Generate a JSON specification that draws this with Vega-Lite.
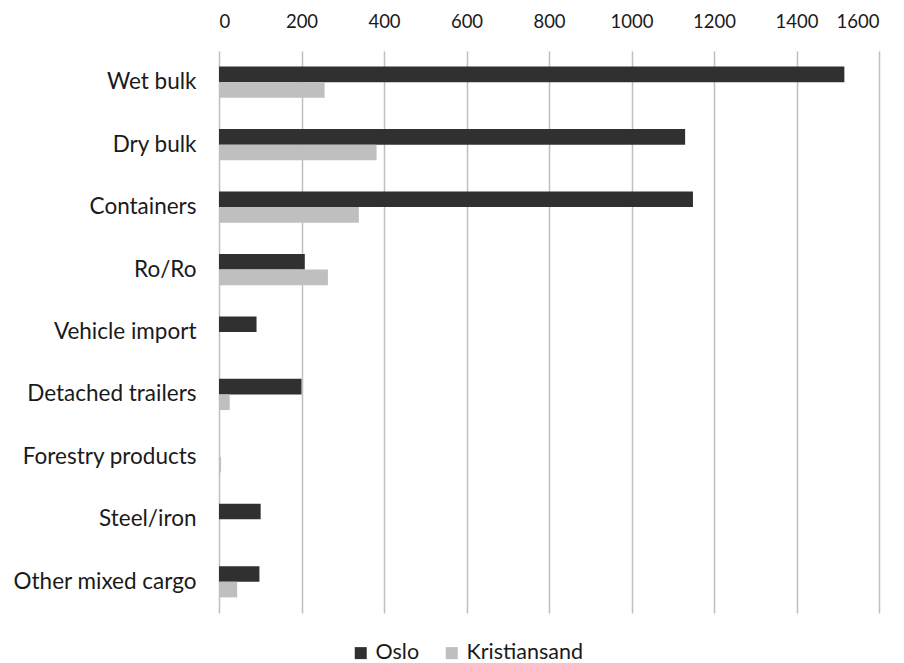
{
  "$schema": "https://vega.github.io/schema/vega-lite/v6.json",
  "width": 660,
  "height": 562,
  "autosize": "none",
  "padding": {"left": 219, "top": 51, "right": 25, "bottom": 50},
  "background": "white",
  "config": {
    "view": {"stroke": null},
    "font": "Lato",
    "axis": {"labelFont": "Lato", "labelColor": "#1a1a1a"},
    "legend": {"labelFont": "Lato", "labelColor": "#1a1a1a"}
  },
  "data": {
    "values": [
      {"category": "Wet bulk", "port": "Oslo", "value": 1516},
      {"category": "Wet bulk", "port": "Kristiansand", "value": 256},
      {"category": "Dry bulk", "port": "Oslo", "value": 1130},
      {"category": "Dry bulk", "port": "Kristiansand", "value": 382},
      {"category": "Containers", "port": "Oslo", "value": 1149},
      {"category": "Containers", "port": "Kristiansand", "value": 339},
      {"category": "Ro/Ro", "port": "Oslo", "value": 208},
      {"category": "Ro/Ro", "port": "Kristiansand", "value": 264},
      {"category": "Vehicle import", "port": "Oslo", "value": 91},
      {"category": "Vehicle import", "port": "Kristiansand", "value": 0},
      {"category": "Detached trailers", "port": "Oslo", "value": 200},
      {"category": "Detached trailers", "port": "Kristiansand", "value": 26},
      {"category": "Forestry products", "port": "Oslo", "value": 0},
      {"category": "Forestry products", "port": "Kristiansand", "value": 5},
      {"category": "Steel/iron", "port": "Oslo", "value": 101},
      {"category": "Steel/iron", "port": "Kristiansand", "value": 0},
      {"category": "Other mixed cargo", "port": "Oslo", "value": 98},
      {"category": "Other mixed cargo", "port": "Kristiansand", "value": 44}
    ]
  },
  "mark": {"type": "bar"},
  "encoding": {
    "y": {
      "field": "category",
      "type": "nominal",
      "sort": null,
      "scale": {"paddingInner": 0.5, "paddingOuter": 0.25},
      "axis": {
        "title": null,
        "ticks": false,
        "domain": false,
        "labelFontSize": 22.5,
        "labelPadding": 23,
        "labelLimit": 300
      }
    },
    "yOffset": {
      "field": "port",
      "type": "nominal",
      "sort": ["Oslo", "Kristiansand"],
      "scale": {"paddingInner": 0, "paddingOuter": 0}
    },
    "x": {
      "field": "value",
      "type": "quantitative",
      "scale": {"domain": [0, 1600], "nice": false},
      "axis": {
        "orient": "top",
        "title": null,
        "format": "d",
        "values": [0, 200, 400, 600, 800, 1000, 1200, 1400, 1600],
        "grid": true,
        "gridColor": "#bfbfbf",
        "gridWidth": 1.5,
        "ticks": false,
        "domain": false,
        "labelFontSize": 18.5,
        "labelPadding": 20
      }
    },
    "color": {
      "field": "port",
      "type": "nominal",
      "scale": {"domain": ["Oslo", "Kristiansand"], "range": ["#303030", "#bfbfbf"]},
      "legend": {
        "title": null,
        "orient": "none",
        "legendX": 131,
        "legendY": 591,
        "direction": "horizontal",
        "symbolType": "square",
        "symbolSize": 144,
        "symbolStrokeWidth": 0,
        "labelFontSize": 21.5,
        "labelOffset": 4,
        "columnPadding": 21,
        "padding": 0
      }
    }
  }
}
